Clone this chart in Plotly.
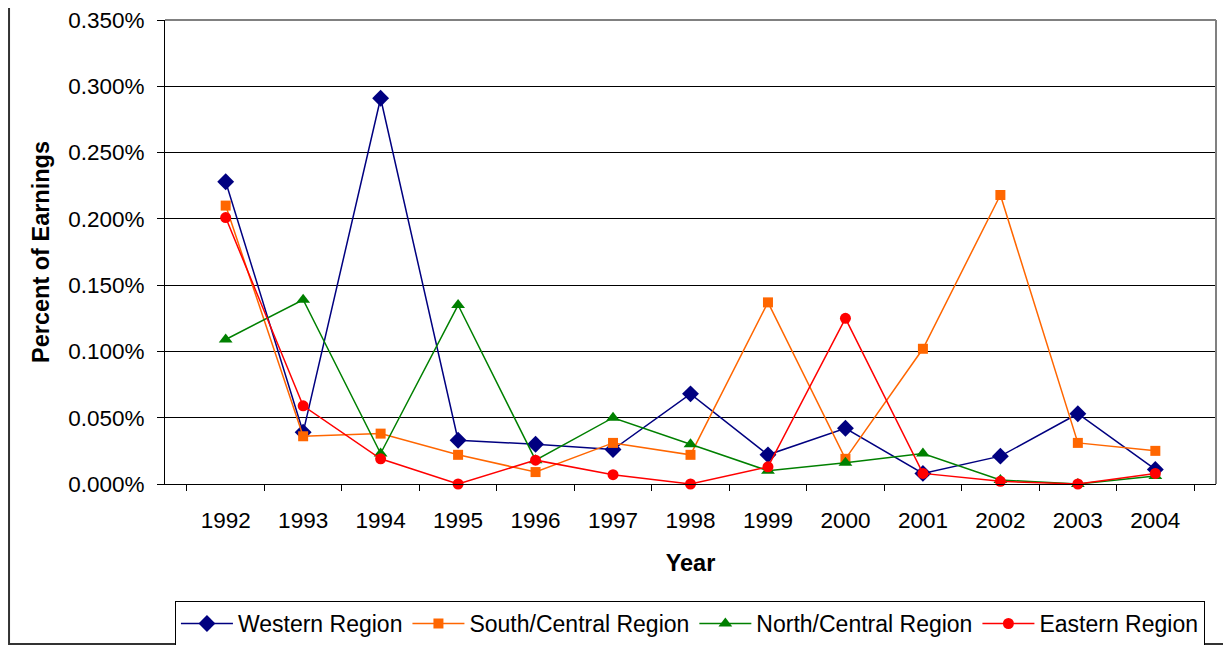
from plotly import graph_objects as go

# values in percent of earnings
years = ["1992", "1993", "1994", "1995", "1996", "1997", "1998",
         "1999", "2000", "2001", "2002", "2003", "2004"]
western = [0.228, 0.039, 0.291, 0.033, 0.030, 0.026, 0.068,
           0.022, 0.042, 0.008, 0.021, 0.053, 0.011]
south_central = [0.210, 0.036, 0.038, 0.022, 0.009, 0.031, 0.022,
                 0.137, 0.019, 0.102, 0.218, 0.031, 0.025]
north_central = [0.109, 0.139, 0.023, 0.135, 0.018, 0.050, 0.030,
                 0.010, 0.016, 0.023, 0.003, 0.000, 0.006]
eastern = [0.201, 0.059, 0.019, 0.000, 0.018, 0.007, 0.000,
           0.013, 0.125, 0.008, 0.002, 0.000, 0.008]
y_ticks = [0.0, 0.05, 0.10, 0.15, 0.20, 0.25, 0.30, 0.35]

FONT = "Arial, Liberation Sans, sans-serif"

series = [
    ("Western Region", western, "#000080", "diamond", 13),
    ("South/Central Region", south_central, "#FF6600", "square", 10),
    ("North/Central Region", north_central, "#008000", "triangle-up", 12),
    ("Eastern Region", eastern, "#FF0000", "circle", 11),
]

fig = go.Figure()
for name, vals, color, symbol, size in series:
    fig.add_trace(
        go.Scatter(
            name=name,
            x=years,
            y=vals,
            mode="lines+markers",
            line=dict(color=color, width=1.5),
            marker=dict(symbol=symbol, size=size, color=color),
            cliponaxis=False,
        )
    )

# the page body adds an 8px offset, so the figure is sized to fit the window
fig.update_layout(
    width=1223,
    height=637,
    margin=dict(l=157, r=15, t=12, b=161, autoexpand=False),
    paper_bgcolor="white",
    plot_bgcolor="white",
    font=dict(family=FONT, size=22.5, color="black"),
    showlegend=True,
    legend=dict(
        orientation="h",
        xref="container",
        yref="container",
        x=0.1365,
        y=0.069,
        xanchor="left",
        yanchor="top",
        bordercolor="black",
        borderwidth=1,
        font=dict(size=23),
        itemwidth=52,
        tracegroupgap=0,
    ),
    shapes=[
        # outer chart frame
        dict(type="rect", xref="paper", yref="paper",
             x0=-0.1484, x1=1.0133, y0=-0.3448, y1=1.03,
             line=dict(color="#333333", width=2)),
        # grey top and right border of the plot area
        dict(type="line", xref="paper", yref="paper", x0=1, x1=1, y0=0, y1=1,
             line=dict(color="#808080", width=2)),
        dict(type="line", xref="paper", yref="paper", x0=0, x1=1, y0=1, y1=1,
             line=dict(color="#808080", width=2)),
    ],
)

fig.update_xaxes(
    type="category",
    automargin=False,
    showline=True,
    linecolor="black",
    linewidth=1,
    ticks="outside",
    tickson="boundaries",
    ticklen=6,
    tickcolor="black",
    ticklabelstandoff=16,
    showgrid=False,
    tickfont=dict(size=22.5),
    title=dict(text="<b>Year</b>", font=dict(size=23.5), standoff=22),
)

fig.update_yaxes(
    range=[0, 0.35],
    automargin=False,
    tickvals=y_ticks,
    ticktext=[f"{v:.3f}%" for v in y_ticks],
    ticklabeloverflow="allow",
    showline=True,
    linecolor="black",
    linewidth=1,
    ticks="outside",
    ticklen=7,
    tickcolor="black",
    ticklabelstandoff=8,
    showgrid=True,
    gridcolor="black",
    gridwidth=1,
    zeroline=False,
    tickfont=dict(size=22.5),
    title=dict(text="<b>Percent of Earnings</b>", font=dict(size=23.5), standoff=11),
)

fig.write_html("out.html")
